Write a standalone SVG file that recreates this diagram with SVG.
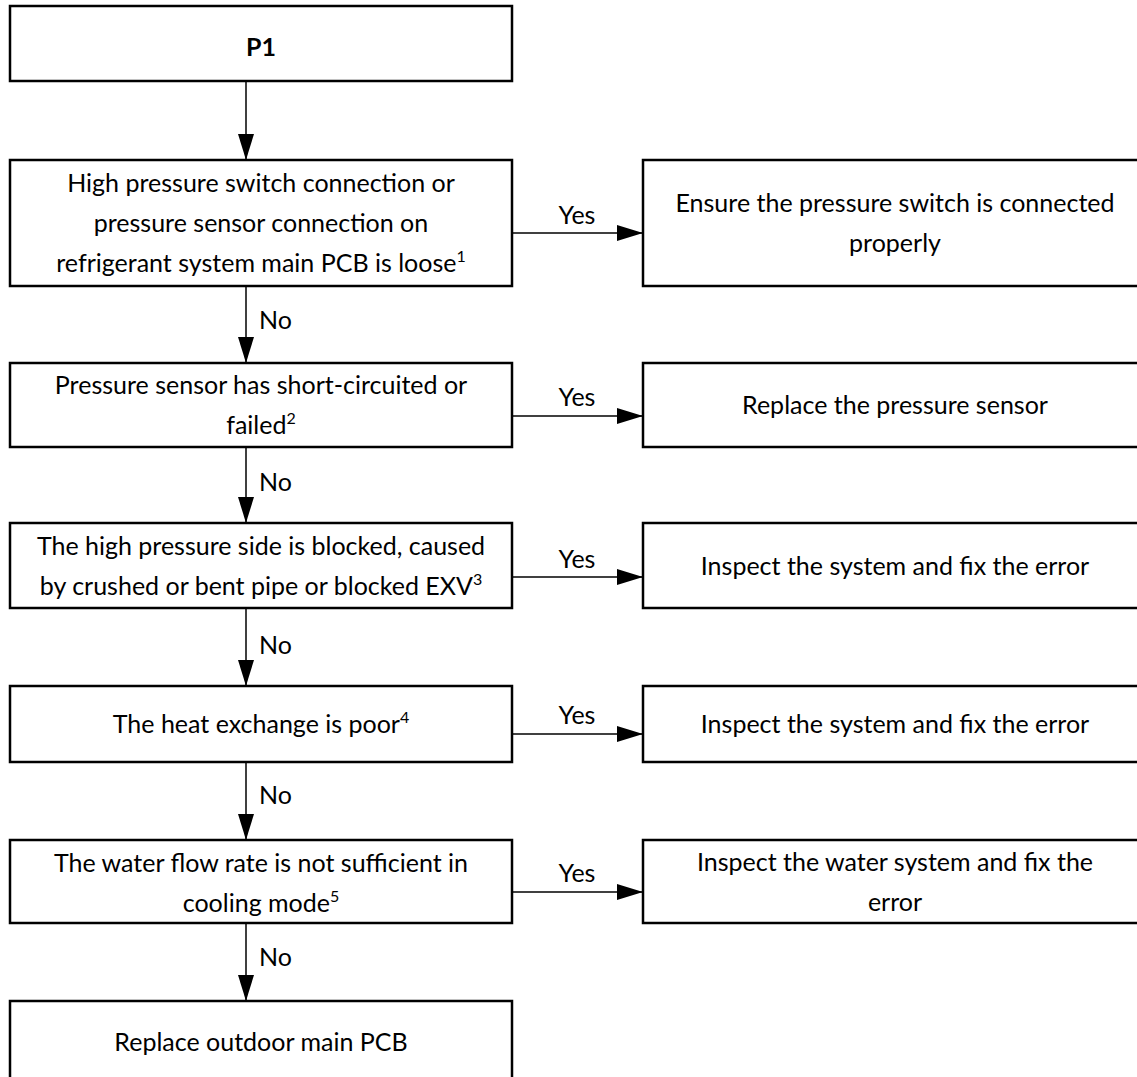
<svg xmlns="http://www.w3.org/2000/svg" width="1137" height="1077" viewBox="0 0 1137 1077">
<defs>
<marker id="ah" markerUnits="userSpaceOnUse" markerWidth="26" markerHeight="16" refX="26" refY="8" orient="auto">
<path d="M0,0 L26,8 L0,16 Z" fill="#000"/>
</marker>
<style>
.box{fill:#fff;stroke:#000;stroke-width:2.5}
.t{font-family:Lato,"Open Sans","DejaVu Sans",sans-serif;font-size:25px;fill:#000;text-anchor:middle}
.b{font-weight:bold}
.lbl{font-family:Lato,"Open Sans","DejaVu Sans",sans-serif;font-size:25px;fill:#000}
.c{stroke:#000;stroke-width:1.5;fill:none;marker-end:url(#ah)}
.sup{font-size:16px}
</style>
</defs>
<rect width="1137" height="1077" fill="#fff"/>
<g id="connectors">
<line class="c" x1="246" y1="81" x2="246" y2="160"/>
<line class="c" x1="512" y1="233" x2="643" y2="233"/>
<line class="c" x1="246" y1="286" x2="246" y2="363"/>
<line class="c" x1="512" y1="416" x2="643" y2="416"/>
<line class="c" x1="246" y1="447" x2="246" y2="523"/>
<line class="c" x1="512" y1="577" x2="643" y2="577"/>
<line class="c" x1="246" y1="608" x2="246" y2="686"/>
<line class="c" x1="512" y1="734" x2="643" y2="734"/>
<line class="c" x1="246" y1="762" x2="246" y2="840"/>
<line class="c" x1="512" y1="892" x2="643" y2="892"/>
<line class="c" x1="246" y1="923" x2="246" y2="1001"/>
<text class="lbl" x="577" y="224" text-anchor="middle">Yes</text>
<text class="lbl" x="577" y="406" text-anchor="middle">Yes</text>
<text class="lbl" x="577" y="568" text-anchor="middle">Yes</text>
<text class="lbl" x="577" y="724" text-anchor="middle">Yes</text>
<text class="lbl" x="577" y="882" text-anchor="middle">Yes</text>
<text class="lbl" x="259" y="329">No</text>
<text class="lbl" x="259" y="491">No</text>
<text class="lbl" x="259" y="654">No</text>
<text class="lbl" x="259" y="804">No</text>
<text class="lbl" x="259" y="966">No</text>
</g>
<g id="n0">
<rect class="box" x="10" y="6" width="502" height="75"/>
<text class="t b" x="261" y="56">P1</text>
</g>
<g id="n1">
<rect class="box" x="10" y="160" width="502" height="126"/>
<text class="t" x="261" y="192">High pressure switch connection or</text>
<text class="t" x="261" y="232">pressure sensor connection on</text>
<text class="t" x="261" y="272">refrigerant system main PCB is loose<tspan class="sup" dy="-10">1</tspan></text>
</g>
<g id="r1">
<rect class="box" x="643" y="160" width="504" height="126"/>
<text class="t" x="895" y="212">Ensure the pressure switch is connected</text>
<text class="t" x="895" y="252">properly</text>
</g>
<g id="n2">
<rect class="box" x="10" y="363" width="502" height="84"/>
<text class="t" x="261" y="394">Pressure sensor has short-circuited or</text>
<text class="t" x="261" y="434">failed<tspan class="sup" dy="-10">2</tspan></text>
</g>
<g id="r2">
<rect class="box" x="643" y="363" width="504" height="84"/>
<text class="t" x="895" y="414">Replace the pressure sensor</text>
</g>
<g id="n3">
<rect class="box" x="10" y="523" width="502" height="85"/>
<text class="t" x="261" y="555">The high pressure side is blocked, caused</text>
<text class="t" x="261" y="595">by crushed or bent pipe or blocked EXV<tspan class="sup" dy="-10">3</tspan></text>
</g>
<g id="r3">
<rect class="box" x="643" y="523" width="504" height="85"/>
<text class="t" x="895" y="575">Inspect the system and fix the error</text>
</g>
<g id="n4">
<rect class="box" x="10" y="686" width="502" height="76"/>
<text class="t" x="261" y="733">The heat exchange is poor<tspan class="sup" dy="-10">4</tspan></text>
</g>
<g id="r4">
<rect class="box" x="643" y="686" width="504" height="76"/>
<text class="t" x="895" y="733">Inspect the system and fix the error</text>
</g>
<g id="n5">
<rect class="box" x="10" y="840" width="502" height="83"/>
<text class="t" x="261" y="872">The water flow rate is not sufficient in</text>
<text class="t" x="261" y="912">cooling mode<tspan class="sup" dy="-10">5</tspan></text>
</g>
<g id="r5">
<rect class="box" x="643" y="840" width="504" height="83"/>
<text class="t" x="895" y="871">Inspect the water system and fix the</text>
<text class="t" x="895" y="911">error</text>
</g>
<g id="n6">
<rect class="box" x="10" y="1001" width="502" height="90"/>
<text class="t" x="261" y="1051">Replace outdoor main PCB</text>
</g>
</svg>
